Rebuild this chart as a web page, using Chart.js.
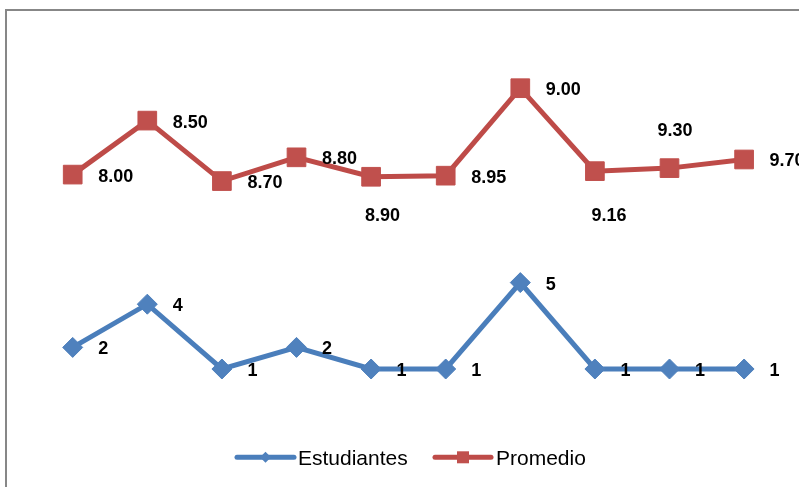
<!DOCTYPE html>
<html>
<head>
<meta charset="utf-8">
<script src="https://cdn.jsdelivr.net/npm/chart.js@4/dist/chart.umd.min.js"></script>
<style>
  html, body { margin: 0; padding: 0; background: #ffffff; }
  #wrap { width: 799px; height: 487px; }
</style>
</head>
<body>
<div id="wrap"><canvas id="c" width="799" height="487"></canvas></div>
<script>
// ---- Data ----
const categories = ['1', '2', '3', '4', '5', '6', '7', '8', '9', '10'];
const estudiantes = [2, 4, 1, 2, 1, 1, 5, 1, 1, 1];
const promedio = [8.00, 8.50, 8.70, 8.80, 8.90, 8.95, 9.00, 9.16, 9.30, 9.70];
const seriesNames = ['Estudiantes', 'Promedio'];

// ---- Styles ----
const BLUE_LINE = '#4A7EBB', BLUE_MARK = '#4F81BD';
const RED_LINE = '#BE4B48', RED_MARK = '#C0504D';
const FONT = "'Liberation Sans', Arial, sans-serif";
// label placement per dataset: default right of the point; some labels moved manually
const labelOffsets = {
  1: { 4: { dx: 11.5, dy: 37.5, align: 'center' },
       7: { dx: 14, dy: 43, align: 'center' },
       8: { dx: 5.5, dy: -38.5, align: 'center' } }
};

const background = {
  id: 'background',
  beforeDraw(chart) {
    const ctx = chart.ctx;
    ctx.save();
    ctx.fillStyle = '#ffffff';
    ctx.fillRect(0, 0, chart.width, chart.height);
    ctx.strokeStyle = '#878787';
    ctx.lineWidth = 2;
    ctx.strokeRect(6, 10, chart.width + 20, chart.height + 20);
    ctx.restore();
  }
};

const dataLabels = {
  id: 'dataLabels',
  afterDatasetsDraw(chart) {
    const ctx = chart.ctx;
    ctx.save();
    ctx.font = 'bold 18px ' + FONT;
    ctx.fillStyle = '#000000';
    ctx.textBaseline = 'alphabetic';
    chart.data.datasets.forEach((ds, di) => {
      const meta = chart.getDatasetMeta(di);
      meta.data.forEach((pt, i) => {
        const v = ds.data[i];
        const txt = di === 1 ? v.toFixed(2) : String(v);
        const off = (labelOffsets[di] && labelOffsets[di][i]) || { dx: 25.5, dy: 0.5, align: 'left' };
        ctx.textAlign = off.align;
        ctx.fillText(txt, pt.x + off.dx, pt.y + off.dy + 6.4);
      });
    });
    ctx.restore();
  }
};

const legendPlugin = {
  id: 'customLegend',
  afterDraw(chart) {
    const ctx = chart.ctx;
    const y = 457.3;
    const items = [
      { name: seriesNames[0], x0: 237, x1: 294, line: BLUE_LINE, mark: BLUE_MARK, style: 'diamond', tx: 298 },
      { name: seriesNames[1], x0: 435, x1: 491, line: RED_LINE, mark: RED_MARK, style: 'square', tx: 496 }
    ];
    ctx.save();
    items.forEach(it => {
      ctx.strokeStyle = it.line;
      ctx.lineWidth = 5;
      ctx.lineCap = 'round';
      ctx.beginPath();
      ctx.moveTo(it.x0, y);
      ctx.lineTo(it.x1, y);
      ctx.stroke();
      const cx = (it.x0 + it.x1) / 2;
      ctx.fillStyle = it.mark;
      ctx.beginPath();
      if (it.style === 'diamond') {
        const r = 5.5;
        ctx.moveTo(cx - r, y); ctx.lineTo(cx, y - r); ctx.lineTo(cx + r, y); ctx.lineTo(cx, y + r);
        ctx.closePath();
      } else {
        ctx.rect(cx - 6, y - 6, 12, 12);
      }
      ctx.fill();
      ctx.fillStyle = '#000000';
      ctx.font = '21px ' + FONT;
      ctx.textAlign = 'left';
      ctx.textBaseline = 'alphabetic';
      ctx.fillText(it.name, it.tx, 465);
    });
    ctx.restore();
  }
};

new Chart(document.getElementById('c'), {
  type: 'line',
  data: {
    labels: categories,
    datasets: [
      {
        label: seriesNames[0],
        data: estudiantes,
        borderColor: BLUE_LINE,
        backgroundColor: BLUE_MARK,
        borderWidth: 5,
        pointStyle: 'rectRot',
        pointRadius: 10,
        pointHoverRadius: 10,
        pointBackgroundColor: BLUE_MARK,
        pointBorderColor: BLUE_MARK,
        pointBorderWidth: 1,
        tension: 0,
        fill: false,
        clip: false
      },
      {
        label: seriesNames[1],
        data: promedio,
        borderColor: RED_LINE,
        backgroundColor: RED_MARK,
        borderWidth: 5,
        pointStyle: 'rect',
        pointRadius: 13.2,
        pointHoverRadius: 13.2,
        pointBackgroundColor: RED_MARK,
        pointBorderColor: RED_MARK,
        pointBorderWidth: 1,
        tension: 0,
        fill: false,
        clip: false
      }
    ]
  },
  options: {
    responsive: false,
    animation: false,
    layout: { padding: { left: 35.4, right: 17.6, top: 88.2, bottom: 96.4 } },
    plugins: { legend: { display: false }, tooltip: { enabled: false }, title: { display: false } },
    scales: {
      x: { display: false, offset: true },
      y: { display: false, stacked: true, min: 0, max: 14 }
    }
  },
  plugins: [background, dataLabels, legendPlugin]
});
</script>
</body>
</html>
